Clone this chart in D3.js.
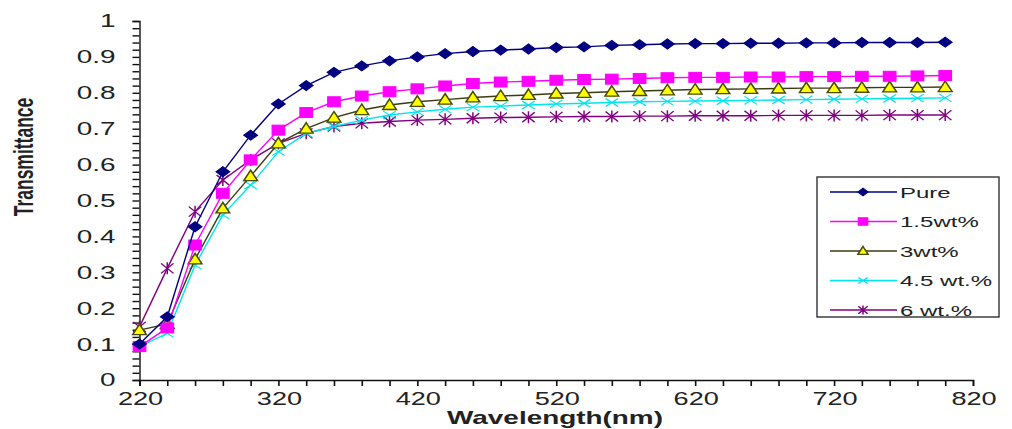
<!DOCTYPE html>
<html>
<head>
<meta charset="utf-8">
<script src="https://cdn.jsdelivr.net/npm/d3@7"></script>
<style>
  html, body { margin: 0; padding: 0; background: #fff; }
  svg { display: block; }
  text { font-family: "Liberation Sans", Arial, sans-serif; fill: #222; }
</style>
</head>
<body>
<svg id="chart" width="1012" height="429"></svg>
<script>
// Wavelength samples (nm)
const wavelengths = [220,240,260,280,300,320,340,360,380,400,420,440,460,480,500,
                     520,540,560,580,600,620,640,660,680,700,720,740,760,780,800];

// Transmittance for each sample
const pure  = [0.100,0.176,0.427,0.580,0.682,0.769,0.820,0.857,0.875,0.889,0.900,0.909,0.915,0.919,0.922,
               0.926,0.928,0.932,0.934,0.936,0.937,0.937,0.938,0.938,0.939,0.939,0.940,0.940,0.940,0.941];
const wt1_5 = [0.093,0.145,0.376,0.520,0.613,0.696,0.745,0.775,0.791,0.803,0.811,0.819,0.826,0.830,0.832,
               0.835,0.837,0.838,0.840,0.842,0.843,0.843,0.844,0.844,0.845,0.845,0.846,0.846,0.847,0.848];
const wt3   = [0.139,0.156,0.336,0.478,0.568,0.659,0.700,0.731,0.752,0.766,0.775,0.781,0.787,0.791,0.794,
               0.798,0.800,0.803,0.805,0.807,0.809,0.810,0.811,0.812,0.813,0.813,0.814,0.815,0.815,0.816];
const wt4_5 = [0.093,0.130,0.320,0.460,0.543,0.636,0.687,0.706,0.724,0.738,0.747,0.754,0.760,0.763,0.766,
               0.769,0.771,0.773,0.775,0.776,0.777,0.778,0.779,0.780,0.781,0.782,0.783,0.784,0.785,0.786];
const wt6   = [0.148,0.311,0.469,0.557,0.613,0.659,0.687,0.706,0.715,0.720,0.724,0.726,0.729,0.731,0.732,
               0.733,0.734,0.734,0.735,0.735,0.736,0.736,0.736,0.737,0.737,0.737,0.737,0.738,0.738,0.738];

const seriesNames = ["Pure", "1.5wt%", "3wt%", "4.5 wt.%", "6 wt.%"];
const xTickLabels = [220, 320, 420, 520, 620, 720, 820];
const yTickLabels = [0, 0.1, 0.2, 0.3, 0.4, 0.5, 0.6, 0.7, 0.8, 0.9, 1];

const seriesValues = [pure, wt1_5, wt3, wt4_5, wt6];
const styles = [
  { line: "#000080", marker: "diamond",  fill: "#000080", stroke: "#000080" },
  { line: "#ff00ff", marker: "square",   fill: "#ff00ff", stroke: "#ff00ff" },
  { line: "#3b3b10", marker: "triangle", fill: "#ffff00", stroke: "#4a4a00" },
  { line: "#00e5ee", marker: "x",        fill: "none",    stroke: "#00e5ee" },
  { line: "#800080", marker: "star",     fill: "none",    stroke: "#800080" }
];

// All lettering and symbols are drawn horizontally widened
const WIDEN = 1.55;
const MARK_WIDEN = 1.25;

const svg = d3.select("#chart");
const x = d3.scaleLinear().domain([220, 820]).range([139.5, 973]);
const y = d3.scaleLinear().domain([0, 1]).range([380, 21]);

// Axes with major labelled ticks and unlabelled minor ticks
const minorX = d3.range(220, 821, 20);
const minorY = d3.range(0, 1.0001, 0.02);

const xAxisG = svg.append("g").attr("transform", "translate(0,380)");
xAxisG.call(d3.axisBottom(x).tickValues(minorX).tickSize(6).tickFormat(""))
  .call(g => g.selectAll("path,line").attr("stroke", "#111").attr("stroke-width", 1.6));
xAxisG.selectAll(".lbl").data(xTickLabels).join("text")
  .attr("class", "lbl")
  .attr("transform", d => `translate(${x(d) + 1},25) scale(${WIDEN},1)`)
  .attr("text-anchor", "middle")
  .style("font-size", "17.5px")
  .text(d => d);

const yAxisG = svg.append("g").attr("transform", "translate(139.5,0)");
yAxisG.call(d3.axisLeft(y).tickValues(minorY).tickSize(7).tickFormat(""))
  .call(g => g.selectAll("path,line").attr("stroke", "#111").attr("stroke-width", 1.4));
yAxisG.selectAll(".lbl").data(yTickLabels).join("text")
  .attr("class", "lbl")
  .attr("transform", d => `translate(-24,${y(d)}) scale(${WIDEN},1)`)
  .attr("dy", "0.36em")
  .attr("text-anchor", "end")
  .style("font-size", "18px")
  .text(d => d);

// Axis titles
svg.append("text")
  .attr("transform", `translate(555,424) scale(${WIDEN},1)`)
  .attr("text-anchor", "middle")
  .style("font-size", "18px").style("font-weight", "bold")
  .text("Wavelength(nm)");
svg.append("text")
  .attr("transform", `translate(33,157) rotate(-90) scale(1,${WIDEN})`)
  .attr("text-anchor", "middle")
  .style("font-size", "17.5px").style("font-weight", "bold")
  .text("Transmittance");

// Marker shapes
function drawMarker(g, type, s, fill, stroke) {
  if (type === "diamond") {
    g.append("path").attr("d", `M${-5.5*s},0L0,${-5*s}L${5.5*s},0L0,${5*s}Z`)
      .attr("fill", fill).attr("stroke", stroke);
  } else if (type === "square") {
    g.append("rect").attr("x", -5*s).attr("y", -5*s).attr("width", 10*s).attr("height", 10*s)
      .attr("fill", fill).attr("stroke", stroke);
  } else if (type === "triangle") {
    g.append("path").attr("d", `M0,${-6*s}L${5.5*s},${4.5*s}L${-5.5*s},${4.5*s}Z`)
      .attr("fill", fill).attr("stroke", stroke).attr("stroke-width", 1.3);
  } else if (type === "x") {
    g.append("path").attr("d", `M${-5*s},${-4*s}L${5*s},${4*s}M${-5*s},${4*s}L${5*s},${-4*s}`)
      .attr("stroke", stroke).attr("stroke-width", 1.1).attr("fill", "none");
  } else if (type === "star") {
    g.append("path").attr("d", `M${-5*s},${-5*s}L${5*s},${5*s}M${-5*s},${5*s}L${5*s},${-5*s}M0,${-6*s}L0,${6*s}`)
      .attr("stroke", stroke).attr("stroke-width", 1.2).attr("fill", "none");
  }
}

// Series lines and markers (drawn last series first so Pure sits on top)
const line = d3.line().x(d => x(d[0])).y(d => y(d[1]));
const order = [4, 3, 2, 1, 0];
order.forEach(i => {
  const pts = wavelengths.map((w, k) => [w, seriesValues[i][k]]);
  const st = styles[i];
  svg.append("path").datum(pts)
    .attr("d", line).attr("fill", "none")
    .attr("stroke", st.line).attr("stroke-width", 1.4);
  const mg = svg.append("g");
  pts.forEach(p => {
    const g = mg.append("g")
      .attr("transform", `translate(${x(p[0])},${y(p[1])}) scale(${MARK_WIDEN},1)`);
    drawMarker(g, st.marker, 1, st.fill, st.stroke);
  });
});

// Legend
const legend = svg.append("g");
legend.append("rect")
  .attr("x", 817).attr("y", 177).attr("width", 182).attr("height", 140)
  .attr("fill", "#fff").attr("stroke", "#222").attr("stroke-width", 1.3);
seriesNames.forEach((name, i) => {
  const ly = 192 + i * 29.5;
  const st = styles[i];
  legend.append("line").attr("x1", 830).attr("x2", 897).attr("y1", ly).attr("y2", ly)
    .attr("stroke", st.line).attr("stroke-width", 1.3);
  const g = legend.append("g")
    .attr("transform", `translate(863,${ly}) scale(${MARK_WIDEN},1)`);
  drawMarker(g, st.marker, 0.75, st.fill, st.stroke);
  legend.append("text")
    .attr("transform", `translate(900,${ly}) scale(${WIDEN},1)`)
    .attr("dy", "0.36em")
    .style("font-size", "15.5px").text(name);
});
</script>
</body>
</html>
